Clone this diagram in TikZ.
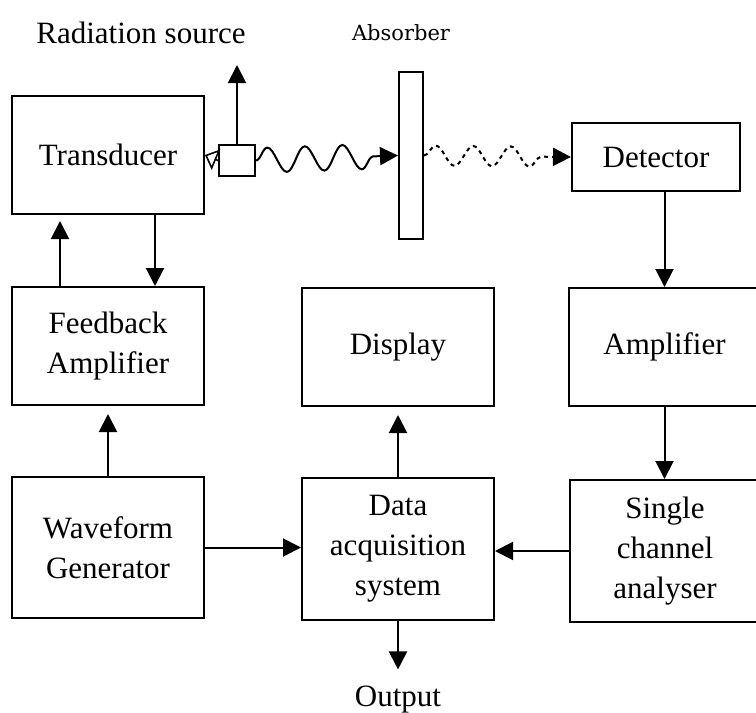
\documentclass[tikz,border=0pt]{standalone}
\usepackage{fontspec}
\setmainfont{Liberation Serif}
\newfontfamily\absfont{DejaVu Serif}
\usetikzlibrary{positioning, arrows.meta, decorations.pathmorphing}

\begin{document}
\begin{tikzpicture}[x=0.5pt, y=-0.5pt,
  blk/.style={draw, line width=1pt, minimum width=96pt, minimum height=59pt, align=center, font=\fontsize{15.5}{20}\selectfont, inner sep=0pt},
  lbl/.style={font=\fontsize{15.5}{20}\selectfont, inner sep=2pt},
  wave/.style={decorate, decoration={snake, segment length=18.75pt, amplitude=6.25pt, post length=8pt}},
  >={Triangle[width=9pt, length=9pt]}, line width=1pt]
  \useasboundingbox (0,0) rectangle (756,713);

  \node[blk] (trans) at (108,155) {Transducer};
  \node[blk] (fbamp) at (108,346) {Feedback\\Amplifier};
  \node[blk, minimum height=70.5pt] (wavegen) at (108,547.5) {Waveform\\Generator};
  \node[blk] (disp) at (398,347) {Display};
  \node[blk, minimum height=71pt] (daq) at (398,549) {Data\\acquisition\\system};
  \node[blk, minimum width=84pt, minimum height=34pt] (det) at (656,157) {Detector};
  \node[blk, minimum width=95.5pt] (amp) at (664.5,347) {Amplifier};
  \node[blk, minimum width=95pt, minimum height=71pt] (sca) at (665,551) {Single\\channel\\analyser};
  \node[draw, minimum width=18pt, minimum height=15.5pt, inner sep=0pt] (src) at (237,160.5) {};
  \node[draw, minimum width=12pt, minimum height=83.5pt, inner sep=0pt] (abs) at (411,155.5) {};
  \coordinate (rad) at (237,65);

  \node[lbl] (radlbl) at (141,33) {Radiation source};
  \node[font=\absfont\fontsize{10.5}{12}\selectfont, inner sep=2pt] (abslbl) at (401,33) {Absorber};
  \node[lbl] (out) at (398,700) {Output};

  \draw[->, shorten >=3pt] ([xshift=-24pt]fbamp.north) -- ([xshift=-24pt]trans.south);
  \draw[->] ([xshift=23.5pt]trans.south) -- ([xshift=23.5pt]fbamp.north);
  \draw[->, shorten >=4pt] (wavegen.north) -- (fbamp.south);
  \draw[->, shorten >=4pt] (daq.north) -- (disp.south);
  \draw[->] (wavegen.east) -- (wavegen.east -| daq.west);
  \draw[->] (sca.west) -- (sca.west -| daq.east);
  \draw[->] (det.south -| amp.north) -- (amp.north);
  \draw[->] (amp.south) -- (amp.south |- sca.north);
  \draw[->, shorten >=6pt] (daq.south) -- (out.north);

  % source, beam and absorber
  \draw[->] (src.north) -- (rad);
  \draw[-{Triangle[open, width=11pt, length=6pt]}, line width=0.8pt] (src.west) -- (trans.east);
  \draw[->, wave] (src.east) -- (abs.west);
  \draw[->, wave, decoration={amplitude=5pt}, dash pattern=on 2pt off 2pt] (abs.east) -- (det.west);
\end{tikzpicture}
\end{document}
